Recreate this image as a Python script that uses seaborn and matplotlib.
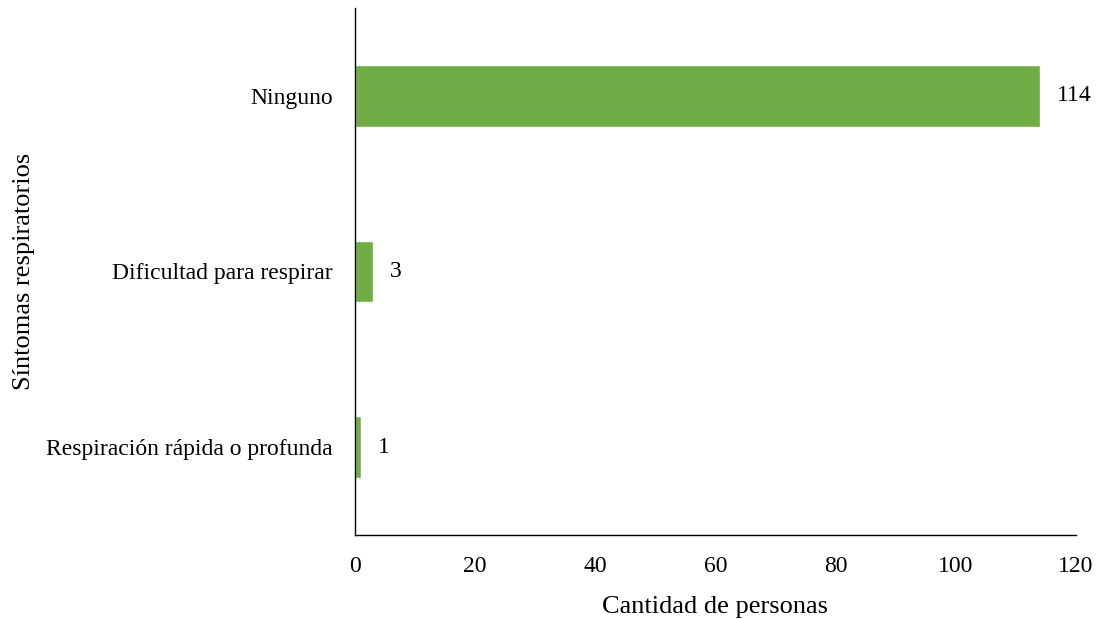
import pandas as pd
import matplotlib
matplotlib.use('Agg')
import matplotlib.pyplot as plt
import seaborn as sns

# ── data ──────────────────────────────────────────────────────────
sintomas = ['Ninguno', 'Dificultad para respirar', 'Respiración rápida o profunda']
cantidad = [114, 3, 1]

df = pd.DataFrame({'sintoma': sintomas, 'cantidad': cantidad})

sns.set_style('white')
plt.rcParams['font.family'] = ['Liberation Serif', 'DejaVu Serif']
plt.rcParams['text.color'] = 'black'
plt.rcParams['axes.labelcolor'] = 'black'
plt.rcParams['xtick.color'] = 'black'
plt.rcParams['ytick.color'] = 'black'

fig = plt.figure(figsize=(11.01, 6.19), dpi=100)
ax = fig.add_axes([355 / 1101, 1 - 535 / 619, (1076 - 355) / 1101, (535 - 8) / 619])

sns.barplot(data=df, x='cantidad', y='sintoma', color='#70AD47',
            width=0.35, saturation=1, ax=ax, orient='h')

for c in ax.containers:
    ax.bar_label(c, padding=12, fontsize=17, color='black')

ax.set_xlim(0, 120)
ax.set_ylim(2.5, -0.5)
ax.set_xticks(range(0, 121, 20))
ax.tick_params(axis='both', length=0, labelsize=17)
ax.tick_params(axis='x', pad=15)
ax.tick_params(axis='y', pad=16)
ax.set_xlabel('Cantidad de personas', fontsize=19, labelpad=14)
ax.set_ylabel('Síntomas respiratorios', fontsize=19, labelpad=8)

for s in ['top', 'right']:
    ax.spines[s].set_visible(False)
for s in ['left', 'bottom']:
    ax.spines[s].set_color('black')
    ax.spines[s].set_linewidth(1)

fig.savefig('out.png', dpi=100)
